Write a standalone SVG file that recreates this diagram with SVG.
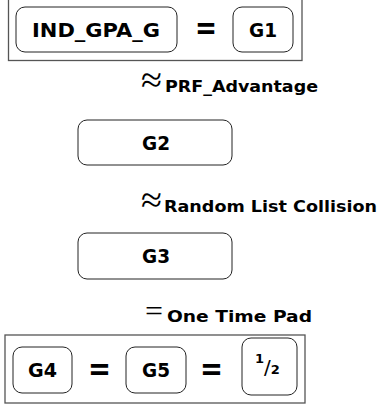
<svg xmlns="http://www.w3.org/2000/svg" width="378" height="408" viewBox="0 0 378 408">
<style>
.frame{fill:none;stroke:#555;stroke-width:1.3}
.node rect{fill:#fff;stroke:#222;stroke-width:1}
.lbl{font-family:"DejaVu Sans",sans-serif;font-weight:bold;fill:#000}
.nl{font-size:20px}
.el{font-size:16.5px}
.eq{font-family:"DejaVu Sans",sans-serif;font-weight:bold;font-size:32px;fill:#000}
.rel{font-family:"Liberation Serif",serif;font-size:36px;fill:#000}
.rel2{font-family:"Liberation Serif",serif;font-size:30px;fill:#000}
</style>
<rect class="frame" x="8.5" y="-1" width="293.5" height="61.5"/>
<g id="IND_GPA_G" class="node"><rect x="16" y="7" width="161" height="45" rx="9"/><text class="lbl nl" x="32" y="37" textLength="128" lengthAdjust="spacingAndGlyphs">IND_GPA_G</text></g>
<text class="eq" x="195" y="39" textLength="22" lengthAdjust="spacingAndGlyphs">=</text>
<g id="G1" class="node"><rect x="233" y="7" width="60" height="45" rx="9"/><text class="lbl nl" x="249" y="37" textLength="28" lengthAdjust="spacingAndGlyphs">G1</text></g>
<g id="connectors">
<g id="e1"><text class="rel" x="141" y="92" textLength="21" lengthAdjust="spacingAndGlyphs">≈</text><text class="lbl el" x="165" y="92" textLength="153" lengthAdjust="spacingAndGlyphs">PRF_Advantage</text></g>
<g id="e2"><text class="rel" x="141" y="212" textLength="21" lengthAdjust="spacingAndGlyphs">≈</text><text class="lbl el" x="164" y="212" textLength="213" lengthAdjust="spacingAndGlyphs">Random List Collision</text></g>
<g id="e3"><text class="rel2" x="145" y="321" textLength="18" lengthAdjust="spacingAndGlyphs">=</text><text class="lbl el" x="167" y="322" textLength="145" lengthAdjust="spacingAndGlyphs">One Time Pad</text></g>
</g>
<g id="G2" class="node"><rect x="78" y="120" width="154" height="45" rx="9"/><text class="lbl nl" x="142" y="150" textLength="28" lengthAdjust="spacingAndGlyphs">G2</text></g>
<g id="G3" class="node"><rect x="78" y="233" width="154" height="46" rx="9"/><text class="lbl nl" x="142" y="263" textLength="28" lengthAdjust="spacingAndGlyphs">G3</text></g>
<rect class="frame" x="5" y="335" width="300" height="68"/>
<g id="G4" class="node"><rect x="13" y="347" width="59" height="46" rx="9"/><text class="lbl nl" x="28" y="377" textLength="29" lengthAdjust="spacingAndGlyphs">G4</text></g>
<text class="eq" x="88" y="380" textLength="23" lengthAdjust="spacingAndGlyphs">=</text>
<g id="G5" class="node"><rect x="126" y="347" width="60" height="46" rx="9"/><text class="lbl nl" x="142" y="377" textLength="28" lengthAdjust="spacingAndGlyphs">G5</text></g>
<text class="eq" x="200" y="380" textLength="23" lengthAdjust="spacingAndGlyphs">=</text>
<g id="half" class="node"><rect x="242" y="338" width="55" height="57" rx="9"/><text class="lbl" font-size="20" x="255" y="374"><tspan font-size="13" dy="-11">1</tspan><tspan dy="11" font-weight="normal">/</tspan><tspan font-size="13" dy="0">2</tspan></text></g>
</svg>
